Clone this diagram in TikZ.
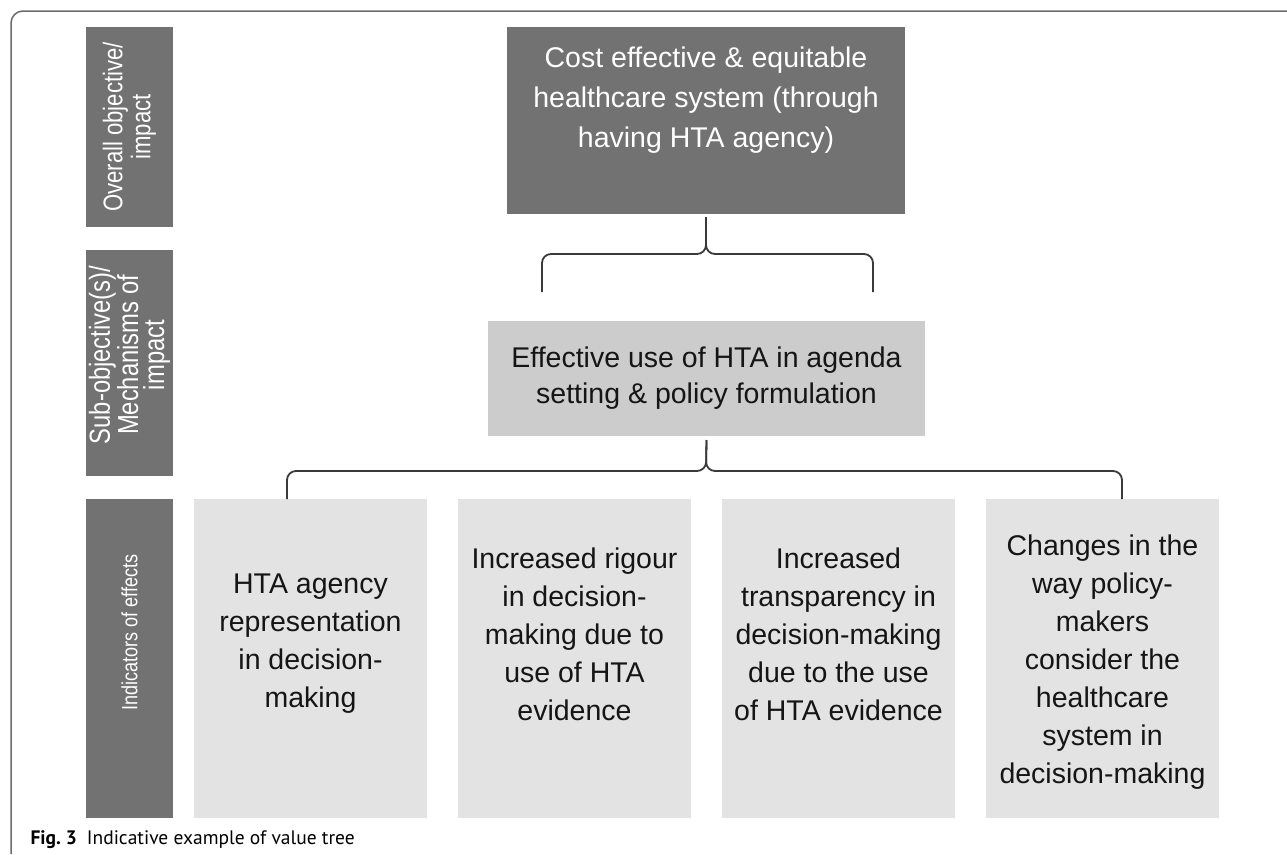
\documentclass[tikz,border=0pt]{standalone}
\usepackage{fontspec}
\setmainfont{Liberation Sans}
\newfontfamily\narrowsans[FakeStretch=0.82]{Liberation Sans}
\newfontfamily\capfont{PT Sans}
\usetikzlibrary{positioning}

\definecolor{bardark}{HTML}{727272}
\definecolor{midgray}{HTML}{CCCCCC}
\definecolor{leafgray}{HTML}{E3E3E3}
\definecolor{framegray}{HTML}{6A6A6A}
\definecolor{bracegray}{HTML}{3A3A3A}
\definecolor{textdark}{HTML}{151515}

\begin{document}
\begin{tikzpicture}[x=1pt, y=-1pt,
box/.style={inner sep=0pt, outer sep=0pt, align=center},
bar/.style={box, fill=bardark, minimum width=87pt},
bartext/.style={box, rotate=90, text=white, font=\narrowsans\fontsize{27}{28}\selectfont},
bigtext/.style={box, font=\fontsize{28.5}{38}\selectfont},
leaf/.style={box, fill=leafgray, minimum width=233pt, minimum height=319pt},
brace/.style={draw=bracegray, line width=1.8pt, rounded corners=9pt}]%pt units, y goes down like the page
\useasboundingbox (0,0) rectangle (1287,854);
\draw[framegray, line width=1.5pt, rounded corners=12pt] (1287,11) -- (11,11) -- (11,854);

% row labels on the left
\node[bar, minimum height=200pt] (bar1) at (129.5,127) {};
\node[bar, minimum height=226pt] (bar2) at (129.5,363) {};
\node[bar, minimum height=319pt] (bar3) at (129.5,658.5) {};
\node[bartext] (bar1t) at (bar1) {Overall objective/\\impact};
\node[bartext, font=\narrowsans\fontsize{29}{26}\selectfont] (bar2t) at ([yshift=8pt]bar2.center) {Sub-objective(s)/\\Mechanisms of\\impact};
\node[bartext, font=\narrowsans\fontsize{22}{26}\selectfont] (bar3t) at ([yshift=26pt]bar3.center) {Indicators of effects};

% the tree
\node[box, fill=bardark, minimum width=398pt, minimum height=187pt] (goal) at (706,120.5) {};
\node[bigtext, text=white, font=\fontsize{28.5}{40}\selectfont] (goalt) at ([yshift=20pt]goal.center) {Cost effective \& equitable\\healthcare system (through\\having HTA agency)};
\node[bigtext, fill=midgray, text=textdark, minimum width=437pt, minimum height=115pt, font=\fontsize{28.5}{36}\selectfont] (mech) at (706.5,378.5) {Effective use of HTA in agenda\\setting \& policy formulation};

\node[leaf] (leaf1) at (310.5,658.5) {};
\node[leaf, right=31pt of leaf1] (leaf2) {};
\node[leaf, right=31pt of leaf2] (leaf3) {};
\node[leaf, right=31pt of leaf3] (leaf4) {};
\node[bigtext, text=textdark] (leaf1t) at ([yshift=15pt]leaf1.center) {HTA agency\\representation\\in decision-\\making};
\node[bigtext, text=textdark] (leaf2t) at ([yshift=24pt]leaf2.center) {Increased rigour\\in decision-\\making due to\\use of HTA\\evidence};
\node[bigtext, text=textdark] (leaf3t) at ([yshift=24pt]leaf3.center) {Increased\\transparency in\\decision-making\\due to the use\\of HTA evidence};
\node[bigtext, text=textdark] (leaf4t) at ([yshift=-4pt]leaf4.center) {Changes in the\\way policy-\\makers\\consider the\\healthcare\\system in\\decision-making};

% braces
\coordinate (b1l) at (542,292);
\coordinate (b1r) at (873,292);
\coordinate (b2l) at (287,499);
\coordinate (b2r) at (1122,499);
\draw[brace] ([yshift=-3pt]goal.south) -- (706,254) -- (542,254) -- (b1l);
\draw[brace] ([yshift=-3pt]goal.south) -- (706,254) -- (873,254) -- (b1r);
\draw[brace] ([yshift=-4pt]mech.south) -- (706,471) -- (287,471) -- (b2l);
\draw[brace] ([yshift=-4pt]mech.south) -- (706,471) -- (1122,471) -- (b2r);

\node[anchor=base west, font=\capfont\fontsize{19.5}{22}\selectfont] (cap) at (27,844) {\textbf{Fig.~3}\hskip 10pt Indicative example of value tree};
\end{tikzpicture}
\end{document}
